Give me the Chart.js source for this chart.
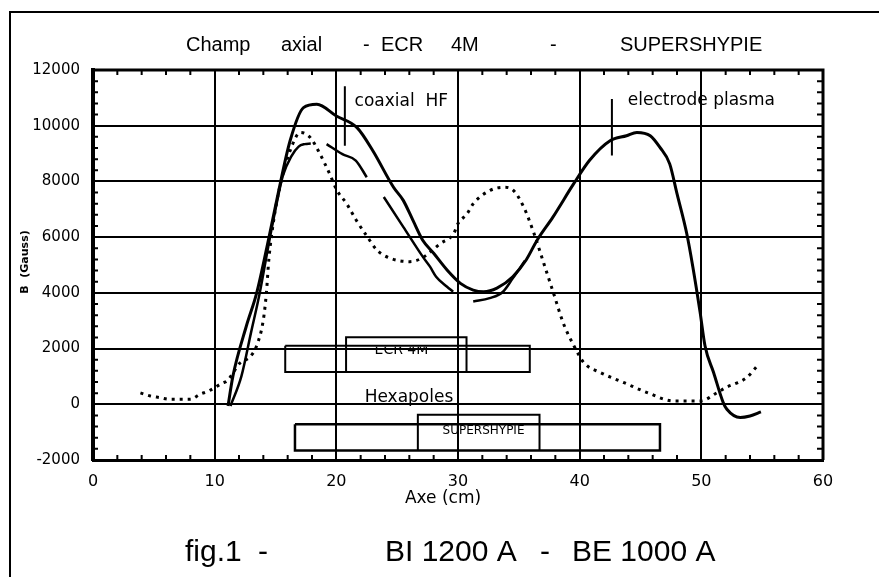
<!DOCTYPE html>
<html>
<head>
<meta charset="utf-8">
<script src="https://cdn.jsdelivr.net/npm/chart.js@4.4.0/dist/chart.umd.min.js"></script>
<style>
html, body { margin: 0; padding: 0; background: #fff; }
</style>
</head>
<body>
<canvas id="fieldChart" width="879" height="577"></canvas>
<script>
// axis ranges
const xRange = [0, 60];
const bRange = [-2000, 12000];

// main solid curve
const mainX = [11.1, 11.5, 12.6, 13.45, 14.3, 15.1, 16.2, 17.3, 18.4, 20.0, 21.7, 23.0, 24.7, 25.5, 26.3, 27.1, 28.0, 29.1, 30.2, 31.25, 32.1, 33.2, 34.5, 35.6, 36.5, 37.8, 39.5, 40.8, 42.5, 43.85, 44.7, 45.8, 46.6, 47.4, 48.0, 48.8, 49.3, 49.9, 50.3, 51.0, 51.8, 52.1, 53.2, 54.0, 54.9];
const mainB = [-60, 1010, 2800, 3990, 5650, 7320, 9460, 10650, 10770, 10350, 9930, 9100, 7790, 7320, 6600, 5890, 5420, 4820, 4340, 4100, 4040, 4170, 4580, 5180, 5890, 6720, 7910, 8750, 9460, 9640, 9760, 9640, 9220, 8630, 7560, 6130, 4940, 3300, 2100, 1150, 60, -180, -475, -420, -275];

// lower solid curve (broken)
const lowX = [11.3, 12.2, 13.0, 13.7, 14.4, 15.0, 15.6, 16.3, 16.9, 17.4, 17.9, 18.5, 19.2, 20.5, 21.6, 22.5, 23.2, 23.9, 25.5, 27.1, 27.7, 28.2, 29.1, 29.6, 30.4, 31.25, 32.6, 33.7, 34.5, 35.5];
const lowB = [-60, 1010, 2600, 3990, 5650, 7000, 8200, 8900, 9250, 9340, 9360, null, 9340, 8980, 8750, 8150, null, 7440, 6370, 5300, 4940, 4580, 4220, 4040, null, 3690, 3810, 4040, 4520, 5150];

// dotted curve
const dotX = [3.9, 4.7, 5.5, 6.3, 8.0, 8.8, 9.5, 10.7, 11.0, 12.1, 12.9, 13.45, 14.0, 14.25, 14.45, 14.85, 15.35, 16.2, 17.05, 17.85, 18.65, 19.45, 20.05, 20.85, 21.65, 22.55, 23.35, 24.45, 26.05, 27.0, 28.55, 29.65, 30.0, 30.75, 31.25, 32.65, 33.75, 34.55, 35.4, 36.25, 37.05, 37.85, 38.65, 39.55, 40.35, 41.75, 43.65, 45.55, 47.75, 49.95, 51.3, 52.1, 53.0, 53.7, 54.7];
const dotB = [410, 300, 240, 180, 180, 360, 475, 775, 830, 1490, 1700, 2100, 3030, 3990, 5180, 6600, 7800, 9100, 9760, 9580, 8990, 8270, 7680, 7200, 6600, 6010, 5530, 5240, 5120, 5240, 5770, 6130, 6490, 6840, 7200, 7680, 7790, 7680, 7080, 6130, 5060, 3990, 2920, 2080, 1490, 1130, 775, 420, 120, 120, 420, 620, 780, 950, 1430];

// hexapole boxes
const ecrOuterX = [15.8, 35.9, 35.9, 15.8, 15.8];
const ecrOuterB = [2100, 2100, 1160, 1160, 2100];
const ecrInnerX = [20.8, 20.8, 30.7, 30.7];
const ecrInnerB = [1160, 2410, 2410, 1160];
const supOuterX = [16.6, 46.6, 46.6, 16.6, 16.6];
const supOuterB = [-714, -714, -1660, -1660, -714];
const supInnerX = [26.7, 26.7, 36.7, 36.7];
const supInnerB = [-1660, -375, -375, -1660];

// marker strokes
const coaxX = [20.7, 20.7];
const coaxB = [11420, 9280];
const electX = [42.65, 42.65];
const electB = [10960, 8930];

// text labels placed in data units
const noteText = ['coaxial  HF', 'electrode plasma', 'Hexapoles', 'SUPERSHYPIE', 'ECR 4M'];
const noteX = [21.5, 43.96, 25.97, 32.1, 25.35];
const noteB = [10850, 10890, 250, -950, 1930];

function pts(xs, ys) {
    return xs.map((x, i) => ({ x: x, y: ys[i] }));
}

function lineSet(xs, ys, width, dash, smooth) {
    return {
        data: pts(xs, ys),
        borderColor: '#000',
        borderWidth: width,
        borderDash: dash || [],
        pointRadius: 0,
        fill: false,
        spanGaps: false,
        tension: smooth ? 0.4 : 0,
        cubicInterpolationMode: smooth ? 'monotone' : 'default'
    };
}

const paperDecor = {
    id: 'paperDecor',
    afterDraw(chart) {
        const ctx = chart.ctx;
        const a = chart.chartArea;
        const xs = chart.scales.x, ys = chart.scales.y;
        ctx.save();
        ctx.strokeStyle = '#000';
        ctx.fillStyle = '#000';

        // page frame
        ctx.lineWidth = 2;
        ctx.beginPath();
        ctx.moveTo(10, 577); ctx.lineTo(10, 12); ctx.lineTo(879, 12);
        ctx.stroke();

        // top and right edge of plot
        ctx.lineWidth = 3;
        ctx.beginPath();
        ctx.moveTo(a.left, a.top); ctx.lineTo(a.right, a.top); ctx.lineTo(a.right, a.bottom);
        ctx.stroke();

        // minor ticks
        ctx.lineWidth = 2;
        ctx.beginPath();
        for (let v = xRange[0]; v <= xRange[1]; v += 2) {
            if (v % 10 === 0) continue;
            const px = xs.getPixelForValue(v);
            ctx.moveTo(px, a.top); ctx.lineTo(px, a.top + 5);
            ctx.moveTo(px, a.bottom); ctx.lineTo(px, a.bottom - 5);
        }
        for (let v = bRange[0]; v <= bRange[1]; v += 400) {
            if (v % 2000 === 0) continue;
            const py = ys.getPixelForValue(v);
            ctx.moveTo(a.left, py); ctx.lineTo(a.left + 5, py);
            ctx.moveTo(a.right, py); ctx.lineTo(a.right - 6, py);
        }
        ctx.stroke();

        // notes
        ctx.textBaseline = 'middle';
        ctx.textAlign = 'left';
        ctx.font = '17px "DejaVu Sans"';
        ctx.fillText(noteText[0], xs.getPixelForValue(noteX[0]), ys.getPixelForValue(noteB[0]));
        ctx.fillText(noteText[1], xs.getPixelForValue(noteX[1]), ys.getPixelForValue(noteB[1]));
        ctx.textAlign = 'center';
        ctx.fillText(noteText[2], xs.getPixelForValue(noteX[2]), ys.getPixelForValue(noteB[2]));
        ctx.font = '12px "DejaVu Sans"';
        ctx.fillText(noteText[3], xs.getPixelForValue(noteX[3]), ys.getPixelForValue(noteB[3]));
        // ECR 4M label, top half hidden under the box edge
        ctx.save();
        ctx.beginPath();
        ctx.rect(0, ys.getPixelForValue(ecrOuterB[0]) + 1, 879, 40);
        ctx.clip();
        ctx.font = '14px "DejaVu Sans"';
        ctx.fillText(noteText[4], xs.getPixelForValue(noteX[4]), ys.getPixelForValue(noteB[4]));
        ctx.restore();

        // title
        ctx.font = '20px "Liberation Sans"';
        ctx.textAlign = 'left';
        const title = [['Champ', 186], ['axial', 281], ['-', 363], ['ECR', 381], ['4M', 451], ['-', 550], ['SUPERSHYPIE', 620]];
        title.forEach(t => ctx.fillText(t[0], t[1], 45));

        // axis titles
        ctx.textAlign = 'center';
        ctx.font = '17px "DejaVu Sans"';
        ctx.fillText('Axe (cm)', 443, 499);
        ctx.save();
        ctx.translate(25, 262);
        ctx.rotate(-Math.PI / 2);
        ctx.font = 'bold 11px "DejaVu Sans"';
        ctx.fillText('B  (Gauss)', 0, 0);
        ctx.restore();

        // caption
        ctx.font = '30px "Liberation Sans"';
        ctx.textAlign = 'left';
        const caption = [['fig.1', 185], ['-', 258], ['BI 1200 A', 385], ['-', 540], ['BE 1000 A', 572]];
        caption.forEach(t => ctx.fillText(t[0], t[1], 553));

        ctx.restore();
    }
};

new Chart(document.getElementById('fieldChart'), {
    type: 'line',
    data: {
        datasets: [
            lineSet(mainX, mainB, 3, null, true),
            lineSet(lowX, lowB, 2.5, null, true),
            lineSet(dotX, dotB, 3, [3, 5], true),
            lineSet(ecrOuterX, ecrOuterB, 2),
            lineSet(ecrInnerX, ecrInnerB, 2),
            lineSet(supOuterX, supOuterB, 2.5),
            lineSet(supInnerX, supInnerB, 2),
            lineSet(coaxX, coaxB, 2),
            lineSet(electX, electB, 2)
        ]
    },
    options: {
        responsive: false,
        animation: false,
        layout: { padding: { top: 70, right: 56, bottom: 0, left: 0 } },
        plugins: {
            legend: { display: false },
            tooltip: { enabled: false },
            title: { display: false }
        },
        scales: {
            x: {
                type: 'linear',
                min: xRange[0],
                max: xRange[1],
                afterFit: s => { s.height = 117; },
                ticks: {
                    stepSize: 10,
                    padding: 12,
                    color: '#000',
                    font: { family: 'DejaVu Sans', size: 16 },
                    callback: v => String(v)
                },
                grid: { color: '#000', lineWidth: 2, drawTicks: false },
                border: { color: '#000', width: 3 }
            },
            y: {
                min: bRange[0],
                max: bRange[1],
                afterFit: s => { s.width = 93; },
                ticks: {
                    stepSize: 2000,
                    padding: 13,
                    color: '#000',
                    font: { family: 'DejaVu Sans', size: 15 },
                    callback: v => String(v)
                },
                grid: { color: '#000', lineWidth: 2, drawTicks: false },
                border: { color: '#000', width: 4 }
            }
        }
    },
    plugins: [paperDecor]
});
</script>
</body>
</html>
